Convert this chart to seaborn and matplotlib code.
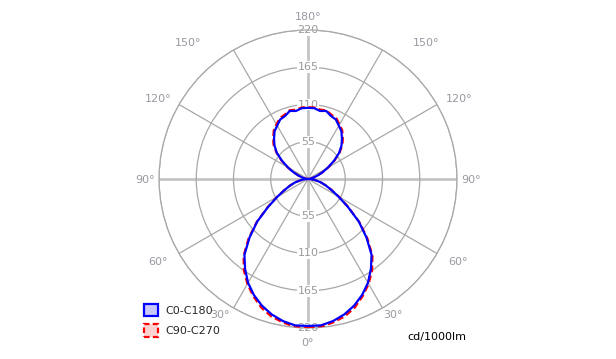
import numpy as np
import pandas as pd
import matplotlib
matplotlib.use("Agg")
import matplotlib.pyplot as plt
import seaborn as sns
from matplotlib.patches import Patch

# ---- data (cd/1000lm), gamma angle measured from nadir ----
gamma = [0, 5, 10, 15, 20, 25, 30, 35, 40, 45, 50, 55, 60, 65, 70, 75, 80, 85, 90,
         95, 100, 105, 110, 115, 120, 125, 130, 135, 140, 145, 150, 155, 160, 165, 170, 175, 180]
c0_c180 = [217, 217, 213, 207, 199, 189, 177, 162, 146, 122, 98, 72, 52, 38, 28, 20, 12, 6, 0,
           2, 5, 9, 15, 24, 34, 47, 60, 70, 78, 86, 91, 97, 99, 104, 102, 105, 105]
c90_c270 = [220, 219, 215, 210, 202, 191, 179, 165, 148, 124, 99, 73, 53, 38, 28, 20, 12, 6, 0,
            2, 5, 9, 15, 24, 35, 48, 61, 72, 80, 88, 93, 99, 101, 105, 104, 106, 106]
series_names = ["C0-C180", "C90-C270"]
rings = [55, 110, 165, 220]
angle_labels = ["0°", "30°", "60°", "90°", "120°", "150°", "180°"]
unit_label = "cd/1000lm"

W, H = 616, 359
fig = plt.figure(figsize=(W / 100, H / 100), dpi=100)
sns.set_style("white")
plt.rcParams["font.family"] = ["DejaVu Sans"]

cx, cy, R = 308, 179, 149
ax = fig.add_axes([(cx - R) / W, (H - cy - R) / H, 2 * R / W, 2 * R / H], projection="polar")
ax.set_theta_zero_location("S")
ax.set_theta_direction(1)
ax.set_ylim(0, 220)
ax.set_facecolor("white")

grid_col = "#a8a8a8"
ax.set_rgrids(rings, labels=[""] * len(rings))
ax.set_thetagrids(np.arange(0, 360, 30), labels=[""] * 12)
ax.grid(True, color=grid_col, linewidth=0.9)
for ang, gl in zip(np.arange(0, 360, 30), ax.xaxis.get_gridlines()):
    if ang % 90 == 0:
        gl.set_color("#c4c4c4")
        gl.set_linewidth(2.0)
ax.spines["polar"].set_color(grid_col)
ax.spines["polar"].set_linewidth(0.9)
ax.tick_params(pad=0)

# radial value labels
for v in rings:
    for th in (0, np.pi):
        ax.text(th, v, str(v), ha="center", va="center", fontsize=8, color="#9a9a9a",
                zorder=1.5, bbox=dict(facecolor="white", edgecolor="none", pad=0.6))

def build(values):
    g = np.array(gamma, dtype=float)
    v = np.array(values, dtype=float)
    th = np.concatenate([np.deg2rad(g), np.deg2rad(360 - g[::-1])])
    r = np.concatenate([v, v[::-1]])
    return pd.DataFrame({"theta": th, "r": r})

sns.lineplot(data=build(c90_c270), x="theta", y="r", sort=False, estimator=None, ax=ax,
             color="#ff0000", linewidth=1.6, linestyle=(0, (3, 1.6)), zorder=3)
sns.lineplot(data=build(c0_c180), x="theta", y="r", sort=False, estimator=None, ax=ax,
             color="#0000ff", linewidth=1.6, zorder=4)
ax.set_xlabel("")
ax.set_ylabel("")

# angle labels (outside the circle)
lab_col = "#9c97a2"
pos = {
    "0°": [(308, 343)],
    "30°": [(220, 315), (393, 315)],
    "60°": [(158, 262), (458, 262)],
    "90°": [(145, 180), (471, 180)],
    "120°": [(158, 99), (459, 99)],
    "150°": [(188, 43), (426, 43)],
    "180°": [(308, 17)],
}
for lab in angle_labels:
    for (x, y) in pos[lab]:
        fig.text(x / W, 1 - y / H, lab, ha="center", va="center", fontsize=8, color=lab_col)

# legend
handles = [Patch(facecolor="#c8c8ff", edgecolor="#0000ff", linewidth=1.6),
           Patch(facecolor="#ffd2d2", edgecolor="#ff0000", linewidth=1.6, linestyle=(0, (2.5, 1.5)))]
fig.legend(handles, series_names, loc="upper left", bbox_to_anchor=(144 / W, 1 - 304 / H),
           frameon=False, fontsize=8, handlelength=1.3, handleheight=1.3,
           handletextpad=0.6, labelspacing=0.75, borderpad=0, borderaxespad=0)

fig.text(407 / W, 1 - 337 / H, unit_label, ha="left", va="center", fontsize=8, color="black")

fig.savefig("out.png", dpi=100, facecolor="white")
